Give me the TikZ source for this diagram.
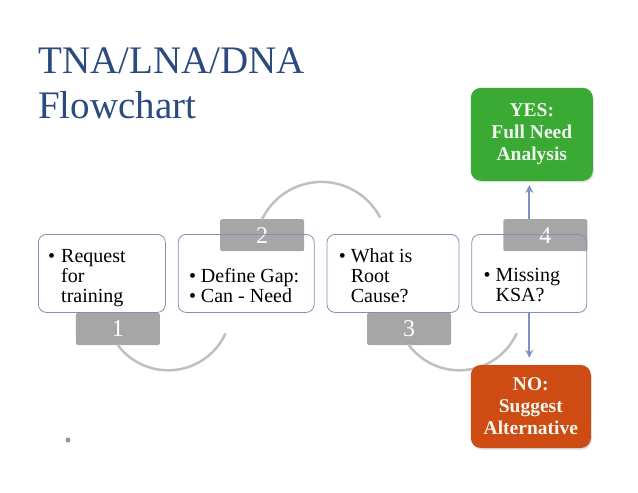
\documentclass[tikz,border=0pt]{standalone}
\usepackage{fontspec}
\setmainfont{Liberation Serif}
\usepackage{xcolor}
\usepackage{tikz}
\usetikzlibrary{arrows.meta, positioning, shadows, backgrounds}
\definecolor{titleblue}{RGB}{43, 75, 128}
\definecolor{boxline}{RGB}{125, 145, 180}
\definecolor{tabgray}{RGB}{166, 166, 166}
\definecolor{arcgray}{RGB}{192, 192, 192}
\definecolor{arrowblue}{RGB}{125, 145, 195}
\definecolor{yesgreen}{RGB}{58, 170, 53}
\definecolor{noorange}{RGB}{206, 76, 20}
\definecolor{outtext}{RGB}{240, 246, 236}
\definecolor{dotgray}{RGB}{150, 150, 150}

\begin{document}
\begin{tikzpicture}[
    x=1pt, y=-1pt,
    titletxt/.style={anchor=base west, inner sep=0pt, text=titleblue,
                     font=\fontsize{39pt}{39pt}\selectfont},
    stepbox/.style={rectangle, draw=boxline, line width=0.8pt, rounded corners=8pt,
                    minimum height=78pt, inner sep=0pt},
    boxtxt/.style={anchor=base west, inner sep=0pt,
                   font=\fontsize{20pt}{20pt}\selectfont},
    tabbox/.style={rectangle, fill=tabgray, rounded corners=2pt, minimum width=84pt,
                   minimum height=32pt, inner sep=0pt, text=white,
                   font=\fontsize{24pt}{24pt}\selectfont},
    outcome/.style={rectangle, rounded corners=10pt, align=center, inner sep=0pt,
                    text=outtext, font=\fontsize{19.5pt}{22pt}\selectfont\bfseries,
                    drop shadow={opacity=0.25, shadow xshift=1pt, shadow yshift=-1.5pt}},
    cyclearc/.style={arcgray, line width=2.5pt, line cap=round},
    arr/.style={-{Stealth[length=8pt, width=8pt]}, arrowblue, line width=2pt},
]
\useasboundingbox (0,0) rectangle (638,493);

% title
\node[titletxt] (title) at (38,73) {TNA/LNA/DNA};
\node[titletxt] (subtitle) at ([yshift=-45pt]title.base west) {Flowchart};

% the four steps
\node[stepbox, minimum width=127pt, anchor=north west] (box1) at (38,234) {};
\node[stepbox, minimum width=136pt, right=12pt of box1] (box2) {};
\node[stepbox, minimum width=132pt, right=12pt of box2] (box3) {};
\node[stepbox, minimum width=115pt, right=12pt of box3] (box4) {};

\node[boxtxt] (t1) at ([xshift=10pt, yshift=10pt]box1.south west)
    {\begin{tabular}[b]{@{}p{13pt}@{}l@{}}\textbullet & Request\\ & for\\ & training\end{tabular}};
\node[boxtxt] (t2) at ([xshift=11pt, yshift=10pt]box2.south west)
    {\begin{tabular}[b]{@{}p{12pt}@{}l@{}}\textbullet & Define Gap:\\ \textbullet & Can - Need\end{tabular}};
\node[boxtxt] (t3) at ([xshift=12pt, yshift=10pt]box3.south west)
    {\begin{tabular}[b]{@{}p{12pt}@{}l@{}}\textbullet & What is\\ & Root\\ & Cause?\end{tabular}};
\node[boxtxt] (t4) at ([xshift=12pt, yshift=11pt]box4.south west)
    {\begin{tabular}[b]{@{}p{12pt}@{}l@{}}\textbullet & Missing\\ & KSA?\end{tabular}};

% outcomes
\node[outcome, fill=yesgreen, minimum width=122pt, minimum height=93pt,
      above=53pt of box4, xshift=2.5pt] (yes) {YES:\\Full Need\\Analysis};
\node[outcome, fill=noorange, minimum width=120pt, minimum height=83pt,
      below=52pt of box4, xshift=1.5pt] (no) {NO:\\Suggest\\Alternative};

\begin{scope}[on background layer]
\draw[arr, shorten >=4pt] (box4.north) -- (box4.north |- yes.south);
\draw[arr, shorten >=7pt] (box4.south) -- (box4.south |- no.north);

\node[tabbox, anchor=north] (tab1) at ([xshift=16pt]box1.south) {1};
\node[tabbox, anchor=north] (tab2) at ([xshift=16pt, yshift=15pt]box2.north) {2};
\node[tabbox, anchor=north] (tab3) at ([xshift=16pt]box3.south) {3};
\node[tabbox, anchor=north] (tab4) at ([xshift=16pt, yshift=15pt]box4.north) {4};

\draw[cyclearc] (tab1.south) arc[start angle=217, end angle=335, radius=63pt];
\draw[cyclearc] (tab2.north) arc[start angle=154, end angle=28, radius=66pt];
\draw[cyclearc] (tab3.south) arc[start angle=217, end angle=335, radius=63pt];
\end{scope}

\node[circle, fill=dotgray, inner sep=0pt, minimum size=5pt] (dot) at (68,440) {};

\end{tikzpicture}
\end{document}
